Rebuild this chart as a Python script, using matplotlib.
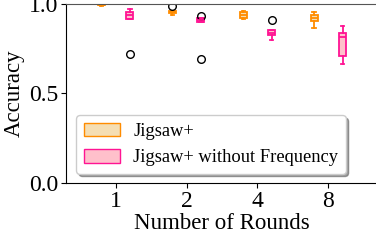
import numpy as np
import matplotlib
matplotlib.use('Agg')
import matplotlib.pyplot as plt
from matplotlib.patches import Patch

plt.rcParams['font.family'] = ['Liberation Serif', 'DejaVu Serif']

rounds = ['1', '2', '4', '8']
labels = ['Jigsaw+', 'Jigsaw+ without Frequency']

# box stats per round: whislo, q1, med, q3, whishi
jig_whislo = [0.990, 0.940, 0.918, 0.865]
jig_q1 = [0.992, 0.948, 0.921, 0.904]
jig_med = [0.996, 0.955, 0.940, 0.921]
jig_q3 = [1.000, 0.960, 0.955, 0.938]
jig_whishi = [1.000, 0.962, 0.958, 0.955]
jig_fliers = [[], [0.99], [], []]

nof_whislo = [0.916, 0.899, 0.800, 0.663]
nof_q1 = [0.916, 0.899, 0.826, 0.708]
nof_med = [0.938, 0.910, 0.840, 0.815]
nof_q3 = [0.955, 0.921, 0.854, 0.837]
nof_whishi = [0.972, 0.921, 0.854, 0.876]
nof_fliers = [[0.719], [0.934, 0.69], [0.91], []]

fig = plt.figure(figsize=(3.76, 2.43), dpi=100)
ax = fig.add_axes([0.1755, 0.247, 0.83, 0.737])

def stats(lo, q1, med, q3, hi, fl):
    return [dict(whislo=a, q1=b, med=c, q3=d, whishi=e, fliers=f)
            for a, b, c, d, e, f in zip(lo, q1, med, q3, hi, fl)]

x = np.arange(len(rounds))
groups = [
    (stats(jig_whislo, jig_q1, jig_med, jig_q3, jig_whishi, jig_fliers), -0.2, '#ff8c00', '#f5deb3'),
    (stats(nof_whislo, nof_q1, nof_med, nof_q3, nof_whishi, nof_fliers), 0.2, '#ff1493', '#ffc0cb'),
]
for st, off, ec, fc in groups:
    ax.bxp(st, positions=x + off, widths=0.1, patch_artist=True,
           boxprops=dict(facecolor=fc, edgecolor=ec, linewidth=1.3),
           medianprops=dict(color=ec, linewidth=1.3),
           whiskerprops=dict(color=ec, linewidth=1.3),
           capprops=dict(color=ec, linewidth=1.3),
           flierprops=dict(marker='o', markerfacecolor='none', markeredgecolor='black',
                           markersize=5.5, markeredgewidth=1.0),
           manage_ticks=False)

ax.set_xlim(-0.7, 3.7)
ax.set_ylim(0, 1.0)
ax.set_xticks(x)
ax.set_xticklabels(rounds)
ax.set_yticks([0.0, 0.5, 1.0])
ax.tick_params(labelsize=17, pad=2)
ax.set_xlabel('Number of Rounds', fontsize=16.5, labelpad=1)
ax.set_ylabel('Accuracy', fontsize=16.5, labelpad=3)
ax.spines['top'].set_color('#555555')
ax.spines['right'].set_visible(False)

handles = [Patch(facecolor='#f5deb3', edgecolor='#ff8c00', label=labels[0]),
           Patch(facecolor='#ffc0cb', edgecolor='#ff1493', label=labels[1])]
ax.legend(handles=handles, loc='lower left', fontsize=13.3, fancybox=True, shadow=True,
          handlelength=2.0, handleheight=0.75, handletextpad=0.7,
          bbox_to_anchor=(0.003, 0.0))

fig.savefig('out.png', dpi=100)
